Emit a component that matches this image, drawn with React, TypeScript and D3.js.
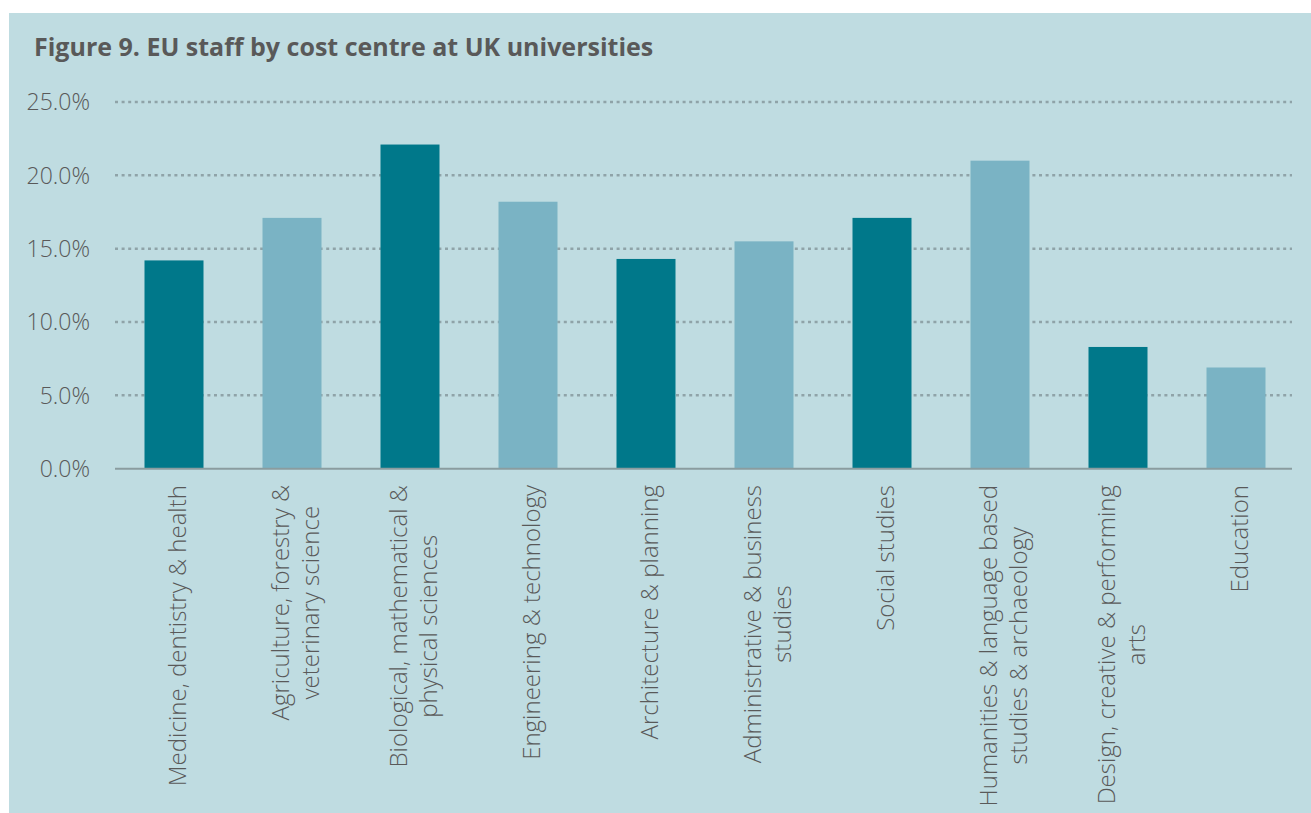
import React, { useEffect, useRef } from "react";
import * as d3 from "d3";

const categories: string[][] = [
  ["Medicine, dentistry & health"],
  ["Agriculture, forestry &", "veterinary science"],
  ["Biological, mathematical &", "physical sciences"],
  ["Engineering & technology"],
  ["Architecture & planning"],
  ["Administrative & business", "studies"],
  ["Social studies"],
  ["Humanities & language based", "studies & archaeology"],
  ["Design, creative & performing", "arts"],
  ["Education"],
];
const values: number[] = [14.2, 17.1, 22.1, 18.2, 14.3, 15.5, 17.1, 21.0, 8.3, 6.9];
const yTicks: number[] = [0, 5, 10, 15, 20, 25];
const title = "Figure 9. EU staff by cost centre at UK universities";

const W = 1311;
const H = 813;
const DARK = "#00788A";
const LIGHT = "#7AB3C4";
const BG = "#BFDCE1";
const TEXT = "#595959";
const FONT = "'Open Sans', 'Noto Sans', sans-serif";

export default function App() {
  const ref = useRef<SVGSVGElement | null>(null);

  useEffect(() => {
    const svg = d3.select(ref.current);
    svg.selectAll("*").remove();

    const x0 = 115, x1 = 1295, yBottom = 468.7, yTop = 102;
    const x = d3
      .scaleBand<number>()
      .domain(d3.range(categories.length))
      .range([x0, x1])
      .paddingInner(0.5)
      .paddingOuter(0.25);
    const y = d3.scaleLinear().domain([0, 25]).range([yBottom, yTop]);

    svg.append("rect").attr("x", 9).attr("y", 13).attr("width", W - 9).attr("height", H - 13).attr("fill", BG);

    svg
      .append("text")
      .attr("x", 34)
      .attr("y", 56)
      .attr("font-family", FONT)
      .attr("font-weight", 700)
      .attr("font-size", 25)
      .attr("fill", TEXT)
      .text(title);

    // gridlines
    svg
      .append("g")
      .selectAll("line")
      .data(yTicks.filter((t) => t > 0))
      .join("line")
      .attr("x1", x0)
      .attr("x2", 1292)
      .attr("y1", (d) => y(d))
      .attr("y2", (d) => y(d))
      .attr("stroke", "#8FA3A8")
      .attr("stroke-width", 2.5)
      .attr("stroke-dasharray", "3 3.6");

    // tick labels
    svg
      .append("g")
      .selectAll("text")
      .data(yTicks)
      .join("text")
      .attr("x", 90)
      .attr("y", (d) => y(d))
      .attr("dy", "0.36em")
      .attr("text-anchor", "end")
      .attr("font-family", FONT)
      .attr("font-weight", 300)
      .attr("font-size", 23)
      .attr("fill", TEXT)
      .text((d) => d3.format(".1f")(d) + "%");

    // bars
    svg
      .append("g")
      .selectAll("rect")
      .data(values)
      .join("rect")
      .attr("x", (_, i) => x(i)!)
      .attr("width", x.bandwidth())
      .attr("y", (d) => y(d))
      .attr("height", (d) => yBottom - y(d))
      .attr("fill", (_, i) => (i % 2 === 0 ? DARK : LIGHT));

    // axis line
    svg
      .append("line")
      .attr("x1", x0)
      .attr("x2", 1292)
      .attr("y1", yBottom)
      .attr("y2", yBottom)
      .attr("stroke", "#8A9C9F")
      .attr("stroke-width", 2);

    // category labels
    const lineGap = 30;
    const topY = 485;
    categories.forEach((lines, i) => {
      const cx = x(i)! + x.bandwidth() / 2 + 2;
      const g = svg.append("g");
      const texts = lines.map((ln) =>
        g
          .append("text")
          .attr("font-family", FONT)
          .attr("font-size", 24)
          .attr("font-weight", 300)
          .attr("fill", TEXT)
          .attr("text-anchor", "middle")
          .attr("dominant-baseline", "central")
          .text(ln)
      );
      const widths = texts.map((t) => (t.node() as SVGTextElement).getComputedTextLength());
      const maxW = d3.max(widths) || 0;
      const n = lines.length;
      texts.forEach((t, j) => {
        const lx = cx + (j - (n - 1) / 2) * lineGap;
        const ly = topY + maxW / 2;
        t.attr("transform", `translate(${lx},${ly}) rotate(-90)`);
      });
    });
  }, []);

  return (
    <div style={{ position: "absolute", left: 0, top: 0 }}>
      <svg ref={ref} width={W} height={H} style={{ display: "block" }} />
    </div>
  );
}
